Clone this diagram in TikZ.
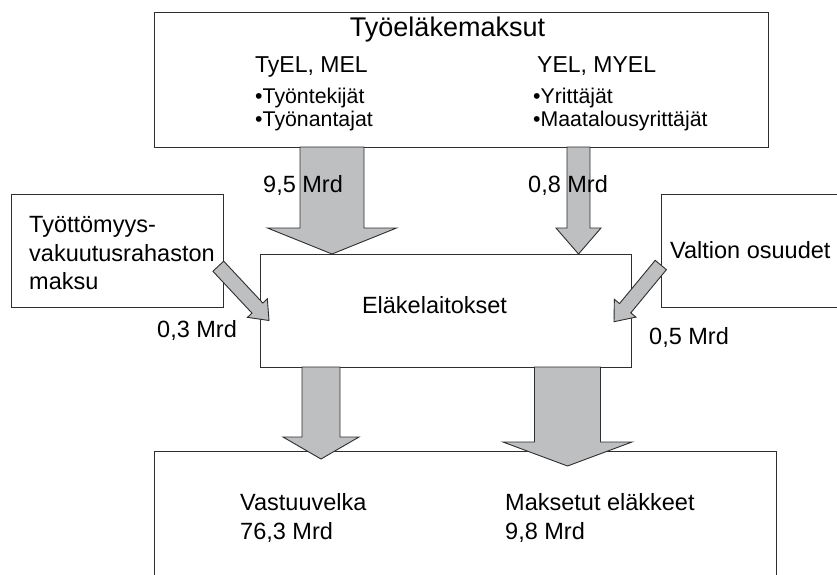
\documentclass[tikz,border=0pt]{standalone}
\usepackage{fontspec}
\setmainfont{Liberation Sans}
\usetikzlibrary{calc}
\definecolor{arrowgray}{HTML}{BEBFC1}
\definecolor{linegray}{HTML}{2E2E2E}
\tikzset{
  box/.style={draw=linegray, line width=1pt, fill=white, anchor=north west, inner sep=0pt},
  barrowstyle/.style={fill=arrowgray, draw=linegray, line width=0.9pt, line join=miter},
  txt/.style={anchor=base west, inner sep=0pt, text=black},
  big/.style={font=\fontsize{27}{31}\selectfont},
  mid/.style={font=\fontsize{23}{28}\selectfont},
  lab/.style={font=\fontsize{23.5}{29}\selectfont},
  sml/.style={font=\fontsize{21.3}{23}\selectfont},
  bot/.style={font=\fontsize{23.5}{29}\selectfont},
}
% #1 start, #2 tip, #3 shaft half width, #4 head half width, #5 head length
\newcommand{\blockarrow}[5]{%
  \coordinate (bah) at ($(#2)!#5!(#1)$);
  \draw[barrowstyle] ($(#1)!#3!90:(#2)$) -- ($(bah)!#3!90:(#2)$) -- ($(bah)!#4!90:(#2)$) -- (#2)
    -- ($(bah)!#4!-90:(#2)$) -- ($(bah)!#3!-90:(#2)$) -- ($(#1)!#3!-90:(#2)$) -- cycle;
}
\begin{document}
\begin{tikzpicture}[x=1pt, y=-1pt]
\useasboundingbox (0,0) rectangle (837,574);
\clip (0,0) rectangle (837,574);
\fill[white] (0,0) rectangle (837,574);

% boxes
\node[box, minimum width=614pt, minimum height=135pt] (top) at (154,12) {};
\node[box, minimum width=212pt, minimum height=113pt] (tyott) at (11,194) {};
\node[box, minimum width=371pt, minimum height=113pt] (elake) at (260,254) {};
\node[box, minimum width=240pt, minimum height=113pt] (valtion) at (661,194) {};
\node[box, minimum width=622pt, minimum height=160pt] (bottom) at (154,451) {};

% connector end points
\coordinate (a1s) at (332,147);   \coordinate (a1t) at (332,254);
\coordinate (a2s) at (578.5,147); \coordinate (a2t) at (578.5,254);
\coordinate (a3s) at (218.3,266.2); \coordinate (a3t) at (269,320.5);
\coordinate (a4s) at (660.8,265); \coordinate (a4t) at (614,321.7);
\coordinate (a5s) at (321,367);   \coordinate (a5t) at (321,459);
\coordinate (a6s) at (567.5,367); \coordinate (a6t) at (567.5,466);

% block arrows
\blockarrow{a1s}{a1t}{32pt}{64.5pt}{26pt}
\blockarrow{a2s}{a2t}{11.5pt}{22.5pt}{26pt}
\blockarrow{a3s}{a3t}{7.4pt}{13.6pt}{17pt}
\blockarrow{a4s}{a4t}{7.3pt}{14pt}{17.5pt}
\blockarrow{a5s}{a5t}{19pt}{38pt}{22pt}
\blockarrow{a6s}{a6t}{33pt}{64.5pt}{24pt}

% texts in top box
\node[big, anchor=base, inner sep=0pt] (ttitle) at (447.5,36) {Työeläkemaksut};
\node[txt, mid] (tyel) at (255,72) {TyEL, MEL};
\node[txt, sml] (tyont) at (255,103) {•Työntekijät};
\node[txt, sml] (tyonan) at (255,126) {•Työnantajat};
\node[txt, mid] (yel) at (537,72) {YEL, MYEL};
\node[txt, sml] (yritt) at (533,103) {•Yrittäjät};
\node[txt, sml] (maat) at (533,126) {•Maatalousyrittäjät};

% amount labels
\node[txt, lab] (l95) at (263,192) {9,5 Mrd};
\node[txt, lab] (l08) at (528,192) {0,8 Mrd};
\node[txt, lab] (l03) at (157,337) {0,3 Mrd};
\node[txt, lab] (l05) at (649,344) {0,5 Mrd};

% side boxes
\node[txt, lab] (ty1) at (29,232) {Työttömyys-};
\node[txt, lab] (ty2) at (29,261) {vakuutusrahaston};
\node[txt, lab] (ty3) at (29,289) {maksu};
\node[txt, lab] (valt) at (670,258) {Valtion osuudet};
\node[lab, anchor=base, inner sep=0pt] (elt) at (434.5,313) {Eläkelaitokset};

% bottom box
\node[txt, bot] (vast) at (240,510) {Vastuuvelka};
\node[txt, bot] (vastm) at (240,539) {76,3 Mrd};
\node[txt, bot] (maks) at (505,510) {Maksetut eläkkeet};
\node[txt, bot] (maksm) at (505,539) {9,8 Mrd};
\end{tikzpicture}
\end{document}
